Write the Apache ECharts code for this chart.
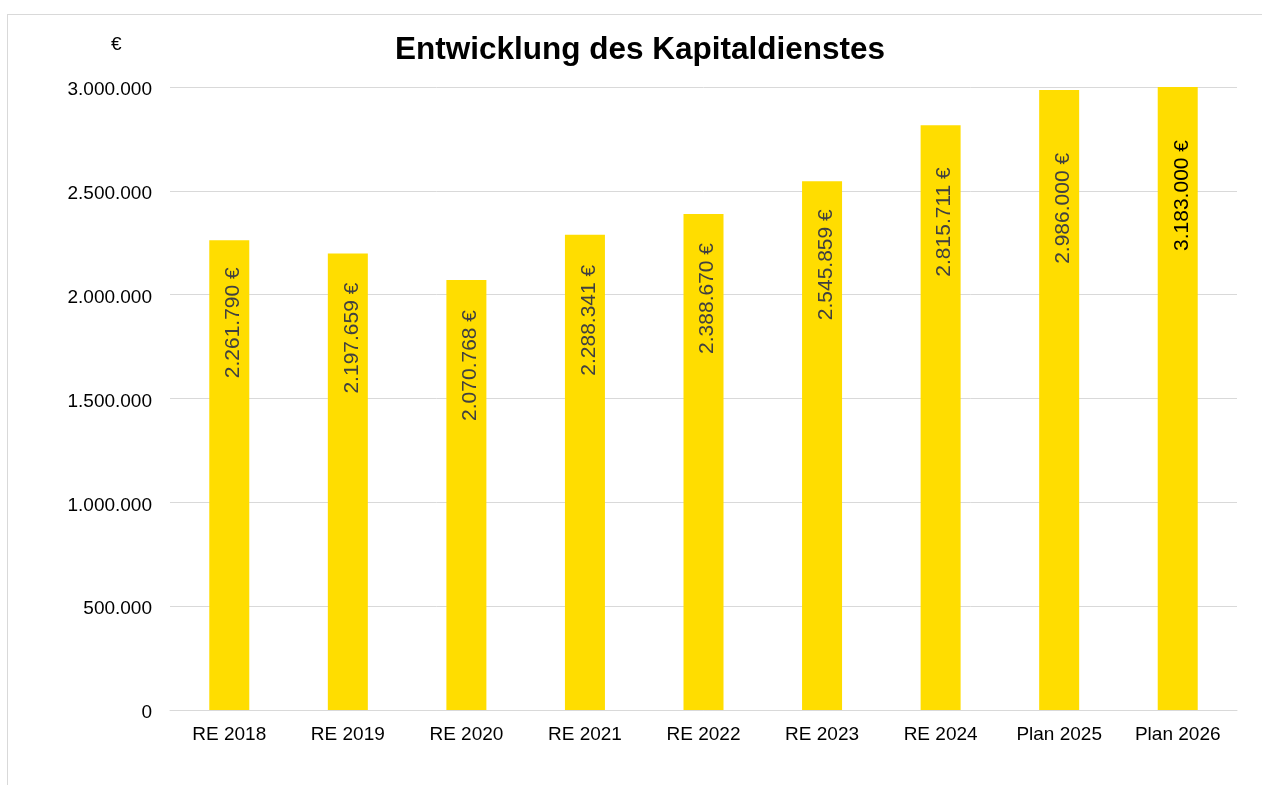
<!DOCTYPE html>
<html>
<head>
<meta charset="utf-8">
<script src="https://cdn.jsdelivr.net/npm/echarts@6/dist/echarts.min.js"></script>
<style>
html,body{margin:0;padding:0;background:#fff;}
#frame{position:absolute;left:7px;top:14px;width:1300px;height:800px;border:1px solid #d9d9d9;box-sizing:border-box;}
#chart{position:absolute;left:0;top:0;width:1262px;height:785px;}
</style>
</head>
<body>
<div id="frame"></div>
<div id="chart"></div>
<script>
const categories = ['RE 2018','RE 2019','RE 2020','RE 2021','RE 2022','RE 2023','RE 2024','Plan 2025','Plan 2026'];
const values = [2261790, 2197659, 2070768, 2288341, 2388670, 2545859, 2815711, 2986000, 3183000];
const yTicks = [0, 500000, 1000000, 1500000, 2000000, 2500000, 3000000];
const labelDistances = [27, 29, 30, 30, 29, 28, 42, 63, 53];
const labelColors = ['#404040','#404040','#404040','#404040','#404040','#404040','#404040','#404040','#000000'];

const FONT = '"Liberation Sans", Arial, sans-serif';
function fmt(n){ return String(Math.round(n)).replace(/\B(?=(\d{3})+(?!\d))/g, '.'); }

const chart = echarts.init(document.getElementById('chart'), null, {renderer:'canvas'});
chart.setOption({
  animation:false,
  textStyle:{fontFamily:FONT},
  title:{
    text:'Entwicklung des Kapitaldienstes',
    left:635, top:29, textAlign:'center',
    textStyle:{fontFamily:FONT,fontSize:31.5,fontWeight:'bold',color:'#000'}
  },
  graphic:[{type:'text',left:111,top:35,style:{text:'€',font:'19px '+FONT,fill:'#000'}}],
  grid:{left:170,right:25,top:87,bottom:75,containLabel:false},
  xAxis:{
    type:'category',
    data:categories,
    axisLine:{lineStyle:{color:'#d9d9d9',width:1}},
    axisTick:{show:false},
    axisLabel:{color:'#000',fontSize:19,fontFamily:FONT,margin:15}
  },
  yAxis:{
    type:'value',
    min:yTicks[0], max:yTicks[yTicks.length-1], interval:yTicks[1]-yTicks[0],
    axisLine:{show:false},
    axisTick:{show:false},
    splitLine:{lineStyle:{color:'#d9d9d9',width:1}},
    axisLabel:{color:'#000',fontSize:19,fontFamily:FONT,margin:18,verticalAlign:'top',lineHeight:6,formatter:v=>fmt(v)}
  },
  series:[{
    type:'bar',
    barWidth:40,
    clip:true,
    itemStyle:{color:'#ffdd00'},
    data:values.map((v,i)=>({
      value:v,
      label:{
        show:true,
        position:['50%', labelDistances[i]],
        offset:[0,4],
        rotate:90,
        align:'right',
        verticalAlign:'middle',
        fontSize:21,
        fontFamily:FONT,
        color:labelColors[i],
        formatter:p=>fmt(p.value)+' €'
      }
    }))
  }]
});
</script>
</body>
</html>
